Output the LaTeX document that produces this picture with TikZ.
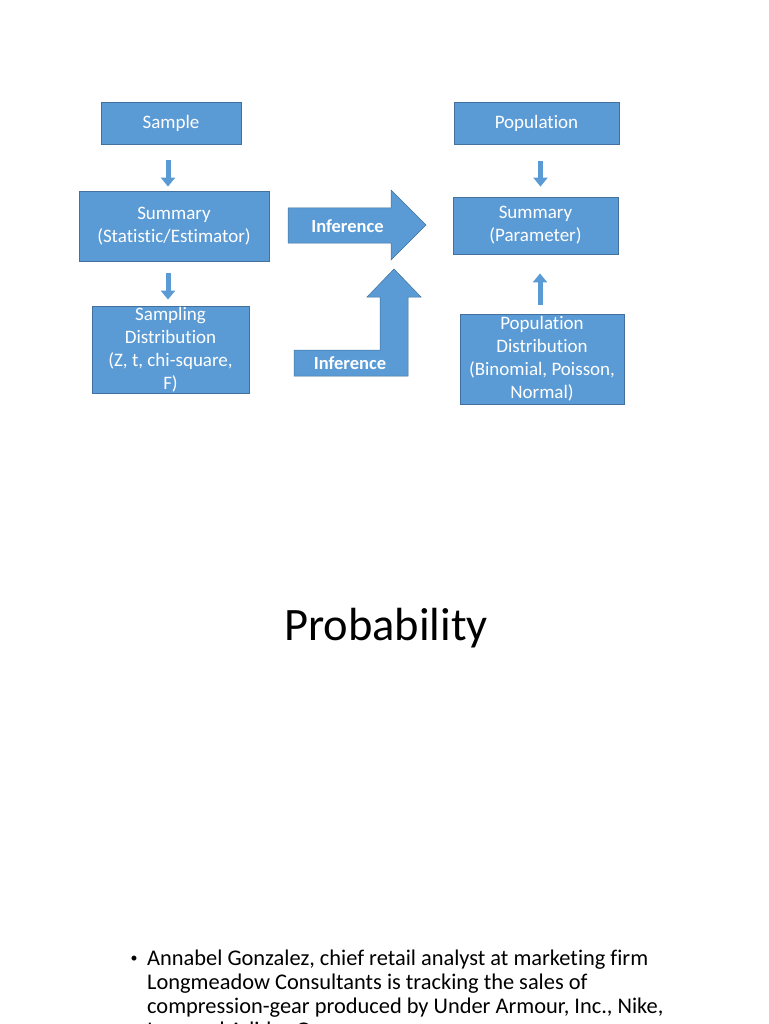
\documentclass[tikz,border=0pt]{standalone}
\usepackage{fontspec}
\setmainfont[Ligatures=NoCommon]{Carlito}
\usetikzlibrary{arrows.meta}
\definecolor{boxfill}{HTML}{5B9BD5}
\definecolor{boxedge}{HTML}{41719C}
\begin{document}
\begin{tikzpicture}[x=1pt,y=-1pt,
  box/.style={draw=boxedge, line width=0.8pt, fill=boxfill, text=white, inner sep=0pt,
    align=center, font=\fontsize{19}{23}\selectfont},
  smallarrow/.style={draw=boxfill, line width=5pt, -{Triangle[width=14pt,length=9pt]}},
  bigarrow/.style={fill=boxfill, draw=boxedge, line width=0.5pt},
  arrowlabel/.style={text=white, font=\fontsize{18.5}{22}\selectfont\bfseries, inner sep=0pt},
  bodyline/.style={anchor=base west, inner sep=0pt, font=\fontsize{22.4}{24}\selectfont},
]
\useasboundingbox (0,0) rectangle (768,1024);
\clip (0,0) rectangle (768,1024);
\fill[white] (0,0) rectangle (768,1024);

% boxes
\node[box, minimum width=140pt, minimum height=42pt] (sample) at (171,123) {\raisebox{-1pt}{Sample}};
\node[box, minimum width=165pt, minimum height=42pt] (popul) at (536.5,123) {\raisebox{-1pt}{Population}};
\node[box, minimum width=190pt, minimum height=70pt] (summL) at (174,226) {\raisebox{-2pt}{Summary}\\\raisebox{-2pt}{(Statistic/Estimator)}};
\node[box, minimum width=165pt, minimum height=57pt] (summR) at (535.5,225.5) {\raisebox{-2pt}{Summary}\\\raisebox{-2pt}{(Parameter)}};
\node[box, minimum width=157pt, minimum height=87pt] (sampD) at (170.5,349.5) {\raisebox{-2pt}{Sampling}\\\raisebox{-2pt}{Distribution}\\\raisebox{-2pt}{(Z, t, chi-square,}\\\raisebox{-2pt}{F)}};
\node[box, minimum width=164pt, minimum height=90pt] (popD) at (542,359) {\raisebox{-1pt}{Population}\\\raisebox{-1pt}{Distribution}\\\raisebox{-1pt}{(Binomial, Poisson,}\\\raisebox{-1pt}{Normal)}};

% small arrows
\draw[smallarrow, shorten <=16pt, shorten >=4pt] ([xshift=-3pt]sample.south) -- ([xshift=-3pt]sample.south |- summL.north);
\draw[smallarrow, shorten <=12pt, shorten >=6pt] ([xshift=-2.5pt]sampD.north |- summL.south) -- ([xshift=-2.5pt]sampD.north);
\draw[smallarrow, shorten <=17pt, shorten >=10pt] ([xshift=4pt]popul.south) -- ([xshift=4pt]popul.south |- summR.north);
\draw[smallarrow, shorten <=9pt, shorten >=19pt] ([xshift=-2pt]popD.north) -- ([xshift=-2pt]popD.north |- summR.south);

% big inference arrows
\draw[bigarrow] (288,208) -- (391,208) -- (391,190) -- (426,225) -- (391,260) -- (391,243) -- (288,243) -- cycle;
\node[arrowlabel] (inf1) at (347.5,226) {Inference};
\draw[bigarrow] (294,350) -- (380,350) -- (380,297) -- (367,297) -- (394,269) -- (421,297) -- (408,297) -- (408,376) -- (294,376) -- cycle;
\node[arrowlabel] (inf2) at (350,363) {Inference};

% title
\node[anchor=base, inner sep=0pt, font=\fontsize{46.5}{46.5}\selectfont] (title) at (386,640) {Probability};

% body text
\node[anchor=base, inner sep=0pt, font=\fontsize{14}{14}\selectfont] (bullet) at (134,962) {•};
\node[bodyline] (l1) at (147,965) {Annabel Gonzalez, chief retail analyst at marketing firm};
\node[bodyline] (l2) at (147,989) {Longmeadow Consultants is tracking the sales of};
\node[bodyline] (l3) at (147,1013) {compression-gear produced by Under Armour, Inc., Nike,};
\node[bodyline] (l4) at (147,1037) {Inc., and Adidas Group};
\end{tikzpicture}
\end{document}
